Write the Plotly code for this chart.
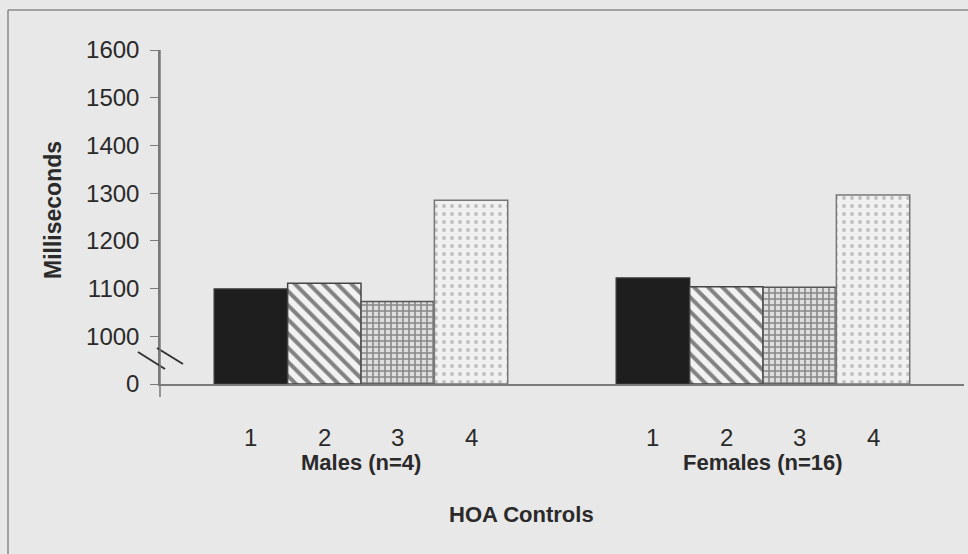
import plotly.graph_objects as go

groups = ["Males (n=4)", "Females (n=16)"]
conditions = ["1", "2", "3", "4"]
males = [1099, 1111, 1073, 1285]
females = [1122, 1104, 1103, 1296]
tick_vals = [900, 1000, 1100, 1200, 1300, 1400, 1500, 1600]
tick_text = ["0", "1000", "1100", "1200", "1300", "1400", "1500", "1600"]
axis_base = 900  # broken axis: "0" is drawn where 900 would be

BG = "#e8e8e8"
styles = [
    dict(color="#1e1e1e", pattern=dict(shape="")),
    dict(color="#ffffff", pattern=dict(shape="\\", fgcolor="#111111", bgcolor="#f2f2f2", size=10, solidity=0.4)),
    dict(color="#ffffff", pattern=dict(shape="+", fgcolor="#2e2e2e", bgcolor="#dedede", size=6, solidity=0.45)),
    dict(color="#f0f0f0", pattern=dict(shape=".", fgcolor="#8c8c8c", bgcolor="#f0f0f0", size=8, solidity=0.18)),
]
outlines = ["#333333", "#444444", "#555555", "#777777"]

fig = go.Figure()
for i, c in enumerate(conditions):
    st = styles[i]
    marker = dict(color=st["color"], line=dict(color=outlines[i], width=1.5))
    if st["pattern"]["shape"]:
        marker["pattern"] = st["pattern"]
    fig.add_trace(go.Bar(
        x=groups, y=[males[i] - axis_base, females[i] - axis_base], base=axis_base,
        name=c, marker=marker, showlegend=False, hoverinfo="skip",
    ))

H0, PH = 384, 334


def py(pix):
    return (H0 - pix) / PH


def px(pix):
    return (pix - 160) / 804


bargap = 0.27
w = (1 - bargap) / len(conditions)
annotations = []
for g, grp in enumerate(groups):
    for i, c in enumerate(conditions):
        annotations.append(dict(x=g + (i - 1.5) * w, xref="x", y=py(437), yref="paper",
                                xanchor="center", yanchor="middle",
                                text=c, showarrow=False, font=dict(size=24, color="#2a2a2a")))
    annotations.append(dict(x=g, xref="x", y=py(462), yref="paper", text="<b>" + grp + "</b>",
                            xanchor="center", yanchor="middle",
                            showarrow=False, font=dict(size=22, color="#2a2a2a")))
annotations.append(dict(x=px(521), xref="paper", y=py(514), yref="paper",
                        xanchor="center", yanchor="middle",
                        text="<b>HOA Controls</b>", showarrow=False, font=dict(size=22, color="#2a2a2a")))
annotations.append(dict(x=px(53), xref="paper", y=py(210), yref="paper",
                        xanchor="center", yanchor="middle",
                        text="<b>Milliseconds</b>", textangle=-90, showarrow=False,
                        font=dict(size=23, color="#2a2a2a")))

shapes = [
    dict(type="line", xref="paper", yref="paper", x0=px(8), x1=px(8), y0=py(10), y1=py(560),
         line=dict(color="#8a8a8a", width=1.5)),
    dict(type="line", xref="paper", yref="paper", x0=px(8), x1=px(975), y0=py(10), y1=py(10),
         line=dict(color="#8a8a8a", width=1.5)),
    dict(type="line", xref="paper", yref="paper", x0=px(138), x1=px(165), y0=py(352), y1=py(369),
         line=dict(color="#333333", width=2)),
    dict(type="line", xref="paper", yref="paper", x0=px(157), x1=px(183), y0=py(348), y1=py(364),
         line=dict(color="#333333", width=2)),
    dict(type="line", xref="paper", yref="paper", x0=0, x1=0, y0=py(397), y1=1,
         line=dict(color="#7a7a7a", width=1.5)),
]

fig.update_layout(
    width=968, height=554,
    margin=dict(l=160, r=4, t=50, b=170),
    paper_bgcolor=BG, plot_bgcolor=BG,
    barmode="group", bargap=bargap, bargroupgap=0,
    font=dict(family="Liberation Sans, Arial, sans-serif", color="#2a2a2a"),
    annotations=annotations, shapes=shapes,
    xaxis=dict(showticklabels=False, showgrid=False, zeroline=False, showline=True,
               linecolor="#7a7a7a", linewidth=1.5, ticks=""),
    yaxis=dict(range=[900, 1600], tickvals=tick_vals, ticktext=tick_text, showgrid=False,
               zeroline=False, showline=True, linecolor="#7a7a7a", linewidth=1.5,
               ticks="outside", ticklen=8, tickcolor="#7a7a7a", ticklabelstandoff=6,
               tickfont=dict(size=24, color="#2a2a2a")),
)

fig.write_html("out.html", config={"displayModeBar": False},
               post_script="document.body.style.margin='0';document.body.style.overflow='hidden';")
